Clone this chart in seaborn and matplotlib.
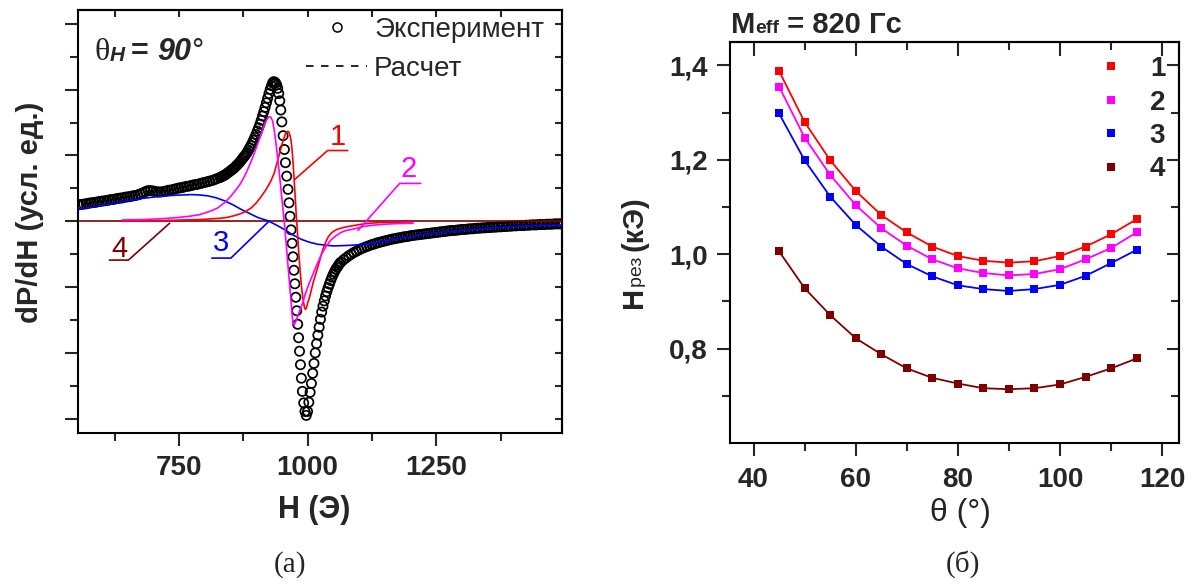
import matplotlib
matplotlib.use("Agg")
import matplotlib.pyplot as plt
import seaborn as sns
from matplotlib.lines import Line2D

# ---------------- panel (a): FMR spectrum ----------------
exp_field = [
    555, 560, 565, 570, 575, 580, 585, 590, 595, 600,
    605, 610, 615, 620, 625, 630, 635, 640, 645, 650,
    655, 660, 665, 670, 675, 680, 685, 690, 695, 700,
    705, 710, 715, 720, 725, 730, 735, 740, 745, 750,
    755, 760, 765, 770, 775, 780, 785, 790, 795, 800,
    805, 810, 815, 820, 825, 830,
    832.5, 835, 837.5, 840, 842.5, 845, 847.5, 850, 852.5, 855,
    857.5, 860, 862.5, 865, 867.5, 870, 872.5, 875, 877.5, 880,
    882.5, 885, 887.5, 890, 892.5, 895, 897.5, 900, 902.5, 905,
    907.5, 910, 912.5, 915, 917.5, 920, 922.5, 925, 927.5, 930,
    932, 934, 936, 938, 940, 942, 944, 946, 948, 950,
    952.5, 955, 957, 959.5,
    962, 964, 966, 968, 970, 971.8, 973.6, 975.4, 977.2, 979,
    980.8, 982.6, 984.4, 986.2, 988, 990, 992.5, 995, 997.5,
    1000, 1002.5, 1005, 1007.5, 1010, 1012.5, 1015, 1017.5, 1020, 1022.5,
    1025, 1027.5, 1030, 1032.5, 1035, 1037.5, 1040, 1042.5, 1045, 1047.5,
    1050, 1052.5, 1055, 1057.5, 1060, 1062.5, 1065,
    1070, 1075, 1080, 1085, 1090, 1095, 1100, 1105, 1110, 1115,
    1120, 1125, 1130, 1135, 1140, 1145, 1150, 1155, 1160, 1165,
    1170, 1175, 1180, 1185, 1190, 1195, 1200, 1205, 1210, 1215,
    1220, 1225, 1230, 1235, 1240, 1245, 1250, 1255, 1260, 1265,
    1270, 1275, 1280, 1285, 1290, 1295, 1300, 1305, 1310, 1315,
    1320, 1325, 1330, 1335, 1340, 1345, 1350, 1355, 1360, 1365,
    1370, 1375, 1380, 1385, 1390, 1395, 1400, 1405, 1410, 1415,
    1420, 1425, 1430, 1435, 1440, 1445, 1450, 1455, 1460, 1465,
    1470, 1475, 1480, 1485, 1490, 1495,
]
exp_signal = [
    0.50, 0.51, 0.52, 0.53, 0.55, 0.56, 0.57, 0.58, 0.60, 0.61,
    0.62, 0.63, 0.65, 0.66, 0.67, 0.69, 0.70, 0.71, 0.73, 0.74,
    0.75, 0.77, 0.78, 0.80, 0.83, 0.86, 0.90, 0.93, 0.93, 0.92,
    0.90, 0.89, 0.89, 0.90, 0.92, 0.94, 0.95, 0.97, 0.99, 1.01,
    1.02, 1.04, 1.06, 1.07, 1.09, 1.11, 1.12, 1.14, 1.16, 1.18,
    1.20, 1.22, 1.24, 1.27, 1.30, 1.33,
    1.35, 1.37, 1.39, 1.41, 1.44, 1.47, 1.50, 1.53, 1.56, 1.59,
    1.62, 1.66, 1.70, 1.74, 1.78, 1.83, 1.88, 1.93, 1.98, 2.03,
    2.09, 2.16, 2.23, 2.30, 2.38, 2.46, 2.55, 2.64, 2.74, 2.84,
    2.95, 3.07, 3.20, 3.33, 3.46, 3.60, 3.74, 3.88, 4.01, 4.12,
    4.20, 4.24, 4.23, 4.20, 4.14, 4.04, 3.88, 3.66, 3.38, 3.02,
    2.60, 2.18, 1.78, 1.37,
    0.97, 0.56, 0.15, -0.26, -0.67, -1.08, -1.49, -1.90, -2.31, -2.72,
    -3.13, -3.54, -3.95, -4.36, -4.77, -5.17, -5.52, -5.78, -5.90,
    -5.78, -5.50, -5.20, -4.93, -4.62, -4.32, -4.00, -3.72, -3.46, -3.22,
    -2.98, -2.76, -2.58, -2.42, -2.27, -2.14, -2.02, -1.91, -1.80, -1.70,
    -1.61, -1.53, -1.46, -1.40, -1.34, -1.28, -1.24,
    -1.17, -1.11, -1.05, -1.00, -0.95, -0.91, -0.87, -0.83, -0.80, -0.77,
    -0.74, -0.71, -0.69, -0.66, -0.64, -0.62, -0.60, -0.58, -0.56, -0.54,
    -0.53, -0.51, -0.50, -0.48, -0.47, -0.46, -0.44, -0.43, -0.42, -0.41,
    -0.40, -0.39, -0.38, -0.37, -0.36, -0.35, -0.34, -0.33, -0.32, -0.31,
    -0.30, -0.29, -0.28, -0.28, -0.27, -0.26, -0.25, -0.25, -0.24, -0.23,
    -0.23, -0.22, -0.21, -0.21, -0.20, -0.20, -0.19, -0.19, -0.18, -0.18,
    -0.17, -0.17, -0.16, -0.16, -0.15, -0.15, -0.14, -0.14, -0.13, -0.13,
    -0.13, -0.12, -0.12, -0.11, -0.11, -0.11, -0.10, -0.10, -0.10, -0.09,
    -0.09, -0.09, -0.08, -0.08, -0.08, -0.08,
]

calc1_field = [640, 680, 720, 760, 790, 810, 830, 845, 860, 870,
               880, 890, 900, 910, 920, 928, 935, 942, 948, 953,
               957, 960, 962, 964, 966, 968, 970, 972, 974, 976,
               978, 980, 982, 985, 988, 991, 994, 996, 998, 1000,
               1004, 1008, 1012, 1017, 1022, 1026, 1030, 1035, 1040, 1045,
               1050, 1057, 1065, 1075, 1090, 1105, 1121, 1140, 1170, 1205]
calc1_signal = [0.00, 0.01, 0.02, 0.04, 0.05, 0.07, 0.09, 0.12, 0.18, 0.23,
                0.30, 0.40, 0.55, 0.75, 0.98, 1.20, 1.45, 1.85, 2.20, 2.48,
                2.65, 2.72, 2.73, 2.70, 2.60, 2.45, 2.15, 1.75, 1.25, 0.75,
                0.20, -0.25, -0.75, -1.40, -1.95, -2.35, -2.62, -2.68, -2.62, -2.50,
                -2.30, -2.05, -1.80, -1.55, -1.28, -1.05, -0.85, -0.64, -0.48, -0.38,
                -0.31, -0.25, -0.21, -0.17, -0.13, -0.09, -0.06, -0.04, -0.03, -0.02]

calc2_field = [640, 680, 720, 745, 770, 790, 810, 825, 840, 852,
               862, 870, 878, 885, 892, 900, 907, 913, 918, 922,
               925, 927, 929, 932, 935, 938, 941, 944, 947, 950,
               953, 956, 959, 962, 965, 968, 970, 972, 974, 977,
               981, 986, 991, 997, 1004, 1012, 1020, 1028, 1037, 1046,
               1056, 1065, 1075, 1089, 1108, 1128, 1150, 1175, 1205]
calc2_signal = [0.04, 0.05, 0.08, 0.11, 0.15, 0.20, 0.30, 0.40, 0.58, 0.78,
                0.98, 1.15, 1.38, 1.62, 1.88, 2.22, 2.52, 2.80, 3.00, 3.12,
                3.17, 3.18, 3.15, 3.05, 2.80, 2.45, 2.05, 1.62, 1.18, 0.72,
                0.25, -0.25, -0.78, -1.35, -1.90, -2.45, -2.85, -3.12, -3.15, -3.05,
                -2.88, -2.67, -2.46, -2.15, -1.85, -1.55, -1.25, -0.98, -0.74, -0.56,
                -0.43, -0.34, -0.28, -0.24, -0.16, -0.12, -0.09, -0.07, -0.06]

calc3_field = [553, 580, 612, 645, 677, 710, 742, 774, 790, 807,
               823, 839, 855, 871, 888, 904, 920, 925, 940, 956,
               972, 988, 1004, 1020, 1037, 1050, 1070, 1085, 1102, 1120,
               1141, 1166, 1200, 1231, 1270, 1310, 1361, 1400, 1450, 1495]
calc3_signal = [0.36, 0.43, 0.52, 0.61, 0.69, 0.75, 0.79, 0.81, 0.80, 0.77,
                0.71, 0.62, 0.50, 0.36, 0.23, 0.11, 0.03, 0.00, -0.12, -0.26,
                -0.42, -0.55, -0.64, -0.70, -0.73, -0.75, -0.74, -0.73, -0.71, -0.68,
                -0.63, -0.55, -0.46, -0.39, -0.32, -0.26, -0.20, -0.16, -0.13, -0.11]

calc4_field = [553, 1495]
calc4_signal = [0.0, 0.0]

curve_labels = ["1", "2", "3", "4"]

# ---------------- panel (б): resonance field vs angle ----------------
theta = [45, 50, 55, 60, 65, 70, 75, 80, 85, 90, 95, 100, 105, 110, 115]
hres_1 = [1.388, 1.280, 1.199, 1.134, 1.083, 1.046, 1.016, 0.996, 0.986, 0.982, 0.985, 0.996, 1.016, 1.042, 1.074]
hres_2 = [1.355, 1.247, 1.168, 1.104, 1.055, 1.018, 0.989, 0.970, 0.960, 0.955, 0.958, 0.968, 0.989, 1.013, 1.046]
hres_3 = [1.298, 1.199, 1.122, 1.062, 1.016, 0.979, 0.953, 0.934, 0.926, 0.922, 0.926, 0.935, 0.954, 0.981, 1.009]
hres_4 = [1.006, 0.928, 0.871, 0.822, 0.788, 0.758, 0.738, 0.726, 0.716, 0.714, 0.716, 0.724, 0.740, 0.758, 0.779]

x_ticks_a = [750, 1000, 1250]
x_ticks_b = [40, 60, 80, 100, 120]
y_ticks_b = [0.8, 1.0, 1.2, 1.4]
y_ticklabels_b = ["0,8", "1,0", "1,2", "1,4"]

colors = ["#FF0000", "#FF00FF", "#0000FF", "#800000"]

# ---------------- style ----------------
sns.set_theme(style="ticks")
plt.rcParams["font.family"] = ["Liberation Sans", "DejaVu Sans"]
plt.rcParams["axes.linewidth"] = 1.5
plt.rcParams["axes.edgecolor"] = "black"

W, H = 1192, 585
fig = plt.figure(figsize=(W / 100, H / 100), dpi=100)


def fx(px):
    return px / W


def fy(py):
    return 1 - py / H


def chain(ax, prev, s, size, prev_size, **kw):
    return ax.annotate(s, xy=(1, 0), xycoords=prev, ha="left", va="bottom",
                       textcoords="offset points",
                       xytext=(0, 0.21 * (prev_size - size)), fontsize=size, **kw)


def chain_v(ax, prev, s, size, prev_size, **kw):
    return ax.annotate(s, xy=(1, 1), xycoords=prev, ha="right", va="bottom",
                       rotation=90, textcoords="offset points",
                       xytext=(-0.21 * (prev_size - size), 0), fontsize=size, **kw)


def mirror_ticks(ax, xt, yt, lx, ly):
    top = ax.secondary_xaxis("top")
    top.set_xticks(xt)
    top.tick_params(direction="in", length=lx, width=1.5, labeltop=False)
    right = ax.secondary_yaxis("right")
    right.set_yticks(yt)
    right.tick_params(direction="in", length=ly, width=1.5, labelright=False)
    return top, right


# ================= panel (a) =================
ax1 = fig.add_axes([fx(77.5), fy(432.5), (562.3 - 77.5) / W, (432.5 - 10) / H])
sns.scatterplot(x=exp_field, y=exp_signal, ax=ax1, marker="o", s=44,
                facecolor="none", edgecolor="black", linewidth=1.25,
                legend=False, zorder=2)
for coll in ax1.collections:
    coll.set_facecolor("none")
    coll.set_edgecolor("black")

for fld, sig, c in [(calc4_field, calc4_signal, colors[3]),
                    (calc3_field, calc3_signal, colors[2]),
                    (calc1_field, calc1_signal, colors[0]),
                    (calc2_field, calc2_signal, colors[1])]:
    sns.lineplot(x=fld, y=sig, ax=ax1, color=c, linewidth=1.2, sort=False,
                 estimator=None, zorder=3)

ax1.set_xlim(553, 1495)
ax1.set_ylim(-6.42, 6.42)
ax1.set_xticks(x_ticks_a)
ax1.set_xticks([625, 875, 1125, 1375], minor=True)
ax1.set_yticks([-6, -4, -2, 0, 2, 4, 6])
ax1.set_yticks([-5, -3, -1, 1, 3, 5], minor=True)
ax1.set_yticklabels([])
ax1.tick_params(axis="x", which="major", direction="out", length=9.5, width=1.5,
                labelsize=20, pad=7, top=False)
ax1.tick_params(axis="x", which="minor", direction="out", length=5.5, width=1.5, top=False)
ax1.tick_params(axis="y", which="major", direction="out", length=9.5, width=1.5, right=False)
ax1.tick_params(axis="y", which="minor", direction="out", length=5.5, width=1.5, right=False)
for lab in ax1.get_xticklabels():
    lab.set_fontweight("bold")
mirror_ticks(ax1, [625, 750, 875, 1000, 1125, 1250, 1375],
             list(range(-6, 7)), 5, 5)
ax1.set_xlabel("")
ax1.set_ylabel("")

# leader lines and curve numbers
leaders = [
    ([1078, 1039, 975], [2.15, 2.15, 1.27], colors[0], (1059, 2.33)),
    ([1220, 1179, 1098], [1.15, 1.15, -0.28], colors[1], (1196, 1.33)),
    ([814, 851, 925], [-1.12, -1.12, 0.0], colors[2], (831, -0.91)),
    ([615, 652, 732], [-1.18, -1.18, -0.06], colors[3], (635, -1.1)),
]
for (lx, ly, c, (tx, ty)), lab in zip(leaders, curve_labels):
    ax1.plot(lx, ly, color=c, linewidth=1.2, zorder=4)
    ax1.text(tx, ty, lab, color=c, fontsize=21, ha="center", va="baseline", zorder=5)

# legend of panel (a)
h_exp = Line2D([], [], marker="o", linestyle="none", markerfacecolor="none",
               markeredgecolor="black", markersize=6.5, markeredgewidth=1.1)
h_calc = Line2D([], [], color="black", linestyle=(0, (4.5, 4.5)), linewidth=1.2)
ax1.legend([h_exp, h_calc], ["Эксперимент", "Расчет"], loc="upper left",
           bbox_to_anchor=(fx(306), fy(17)), bbox_transform=fig.transFigure,
           frameon=False, fontsize=20, handlelength=2.2, handletextpad=0.25,
           labelspacing=0.45, borderpad=0, borderaxespad=0)

# theta_H = 90 deg
t1 = fig.text(fx(95), fy(60), "θ", fontsize=23, family=["Liberation Serif", "DejaVu Serif"],
              va="baseline", ha="left")
t2 = chain(ax1, t1, "H ", 15, 23, fontweight="bold", fontstyle="italic")
t3 = chain(ax1, t2, "= ", 22, 15, fontweight="bold")
t4 = chain(ax1, t3, "90", 22, 22, fontweight="bold", fontstyle="italic")
t5 = chain(ax1, t4, "°", 22, 22)

fig.text(fx(30), fy(212), "dP/dH (усл. ед.)", rotation=90, ha="center", va="center",
         fontsize=21, fontweight="bold")
fig.text(fx(314), fy(518), "H (Э)", ha="center", va="baseline", fontsize=22,
         fontweight="bold")
fig.text(fx(290), fy(572), "(а)", ha="center", va="baseline", fontsize=21,
         family=["Liberation Serif", "DejaVu Serif"])

# ================= panel (б) =================
ax2 = fig.add_axes([fx(729.5), fy(443), (1179 - 729.5) / W, (443 - 41.7) / H])
for vals, c in zip([hres_1, hres_2, hres_3, hres_4], colors):
    sns.lineplot(x=theta, y=vals, ax=ax2, color=c, linewidth=1.3, marker="s",
                 markersize=6, markeredgewidth=0, estimator=None, zorder=3)

ax2.set_xlim(35.3, 123.3)
ax2.set_ylim(0.60, 1.45)
ax2.set_xticks(x_ticks_b)
ax2.set_xticks([50, 70, 90, 110], minor=True)
ax2.set_yticks(y_ticks_b)
ax2.set_yticklabels(y_ticklabels_b)
ax2.set_yticks([0.7, 0.9, 1.1, 1.3], minor=True)
ax2.tick_params(axis="both", which="major", direction="out", length=9.5, width=1.5,
                labelsize=20, pad=6, top=False, right=False)
ax2.tick_params(axis="x", which="major", pad=8)
ax2.tick_params(axis="both", which="minor", direction="out", length=5.5, width=1.5,
                top=False, right=False)
for lab in ax2.get_xticklabels() + ax2.get_yticklabels():
    lab.set_fontweight("bold")
top2, right2 = mirror_ticks(ax2, x_ticks_b, y_ticks_b, 10, 9)
top2.set_xticks([50, 70, 90, 110], minor=True)
top2.tick_params(which="minor", direction="in", length=5.5, width=1.5)
right2.set_yticks([0.7, 0.9, 1.1, 1.3], minor=True)
right2.tick_params(which="minor", direction="in", length=5.5, width=1.5)
ax2.set_xlabel("")
ax2.set_ylabel("")

handles_b = [Line2D([], [], marker="s", linestyle="none", color=c, markersize=6,
                    markeredgewidth=0) for c in colors]
ax2.legend(handles_b, curve_labels, loc="upper left",
           bbox_to_anchor=(fx(1097), fy(56)), bbox_transform=fig.transFigure,
           frameon=False, prop={"size": 20, "weight": "bold"}, handlelength=1.0,
           handletextpad=0.9, labelspacing=0.27, borderpad=0, borderaxespad=0)

# title M_eff
m1 = fig.text(fx(731), fy(33), "M", fontsize=21, fontweight="bold", va="baseline")
m2 = chain(ax2, m1, "eff", 14, 21, fontweight="bold")
m3 = chain(ax2, m2, " = 820 Гс", 21, 14, fontweight="bold")

# y label H_рез (кЭ)
y1 = fig.text(fx(648), fy(308), "H", fontsize=21, fontweight="bold", rotation=90,
              ha="right", va="bottom")
y2 = chain_v(ax2, y1, "рез ", 14, 21)
y3 = chain_v(ax2, y2, "(кЭ)", 21, 14, fontweight="bold")

fig.text(fx(960), fy(521), "θ (°)", ha="center", va="baseline", fontsize=23)
fig.text(fx(963), fy(572), "(б)", ha="center", va="baseline", fontsize=21,
         family=["Liberation Serif", "DejaVu Serif"])

fig.savefig("out.png", dpi=100)
